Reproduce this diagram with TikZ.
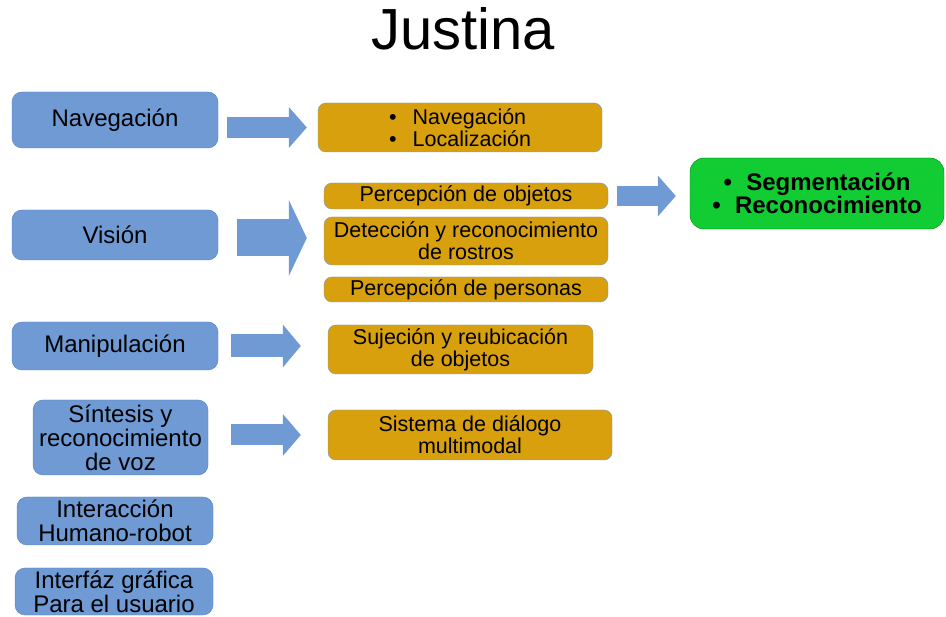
\documentclass[tikz,border=0pt]{standalone}
\usepackage{fontspec}
\setmainfont{Liberation Sans}
\usepackage{xcolor}
\usetikzlibrary{arrows.meta,positioning}

\definecolor{azul}{HTML}{6F9AD4}
\definecolor{azulborde}{HTML}{4F7FBF}
\definecolor{ocre}{HTML}{D8A00C}
\definecolor{verde}{HTML}{11CC33}

\tikzset{
  modulo/.style={draw=azulborde, fill=azul, rounded corners=10pt, align=center, inner sep=0pt, font=\fontsize{24}{24}\selectfont},
  tarea/.style={draw=azulborde!80, fill=ocre, rounded corners=8pt, align=center, inner sep=0pt, minimum width=284pt, font=\fontsize{21.5}{22}\selectfont},
  flecha/.style 2 args={azul, line width=#1, -{Triangle[length=18pt, width=#2, line width=0pt]}}
}

\begin{document}
\begin{tikzpicture}[x=1pt, y=-1pt]
            \useasboundingbox (0,0) rectangle (946,617);
            \node[anchor=base, font=\fontsize{58}{58}\selectfont] (titulo) at (463,50) {Justina};

            % modulos
            \node[modulo, minimum width=206pt, minimum height=56pt] (nav) at (115,120) {Navegación};
            \node[modulo, minimum width=206pt, minimum height=50pt] (vis) at (115,235) {Visión};
            \node[modulo, minimum width=206pt, minimum height=48pt] (man) at (115,346) {Manipulación};
            \node[modulo, minimum width=175pt, minimum height=75pt] (sin) at (120.5,437.5) {Síntesis y\\reconocimiento\\de voz};
            \node[modulo, minimum width=196pt, minimum height=48pt] (hri) at (115,521) {Interacción\\Humano-robot};
            \node[modulo, minimum width=198pt, minimum height=47pt] (gui) at (114,591.5) {Interfáz gráfica\\Para el usuario};

            % tareas
            \node[tarea, minimum height=49pt] (navl) at (460,127.5) {\raisebox{-8.4pt}[0pt][0pt]{\begin{tabular}{@{}l@{\hspace{0.75em}}l@{}}\textbullet & Navegación\\[-1pt] \textbullet & Localización\end{tabular}}};
            \node[tarea, minimum height=26pt] (obj) at (466,196) {Percepción de objetos};
            \node[tarea, minimum height=48pt] (ros) at (466,241) {Detección y reconocimiento\\de rostros};
            \node[tarea, minimum height=25pt] (per) at (466,289.5) {Percepción de personas};
            \node[tarea, minimum width=265pt, minimum height=49pt] (suj) at (460.5,349.5) {Sujeción y reubicación\\de objetos};
            \node[tarea, minimum height=50pt] (dia) at (470,435) {Sistema de diálogo\\multimodal};

            \node[draw=green!50!black, fill=verde, rounded corners=14pt, align=center, inner sep=0pt, minimum width=254pt, minimum height=71pt, font=\fontsize{24}{23}\selectfont\bfseries] (seg) at (817,193.5) {\textbullet\hspace{0.6em}Segmentación\\\textbullet\hspace{0.6em}Reconocimiento};

            % flechas
            \draw[flecha={21pt}{41pt}] ([xshift=9pt]nav.east |- navl.west) -- ([xshift=-11pt]navl.west);
            \draw[flecha={37pt}{76pt}] ([xshift=19pt,yshift=3pt]vis.east |- ros.west) -- ([xshift=-17pt,yshift=3pt]ros.west);
            \draw[flecha={23pt}{43pt}] ([xshift=13pt]man.east) -- ([xshift=-27pt]man.east -| suj.west);
            \draw[flecha={21pt}{42pt}] ([xshift=23pt]sin.east |- dia.west) -- ([xshift=-27pt]dia.west);
            \draw[flecha={20pt}{41pt}] ([xshift=9pt]obj.east) -- ([xshift=-14pt]obj.east -| seg.west);
        \end{tikzpicture}
\end{document}
